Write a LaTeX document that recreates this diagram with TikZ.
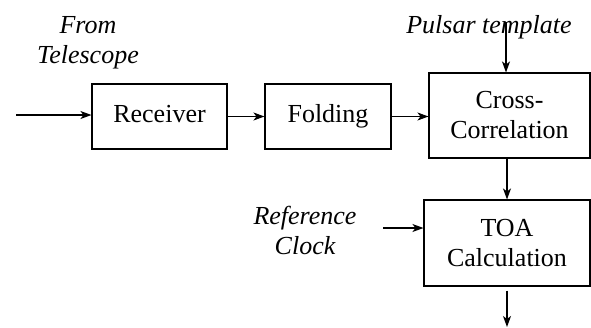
\documentclass[tikz,border=0pt]{standalone}
\usepackage{fontspec}
\setmainfont{Liberation Serif}
\usetikzlibrary{arrows.meta}
\begin{document}
\begin{tikzpicture}[x=1pt,y=-1pt,
  blk/.style={draw,line width=1.1pt,inner sep=0pt,align=center,font=\fontsize{26}{30}\selectfont},
  one/.style={text height=18pt,text depth=6pt},
  lbl/.style={inner sep=0pt,align=center,font=\fontsize{26}{30}\selectfont\itshape},
  arr/.style={line width=1.1pt,-{Stealth[length=11pt,width=8pt,inset=3pt]}}]
\useasboundingbox (0,0) rectangle (591,327);
\node[blk,one,minimum width=135pt,minimum height=65pt] (rec) at (159.5,116.5) {Receiver};
\node[blk,one,minimum width=126pt,minimum height=65pt] (fold) at (328,116.5) {Folding};
\node[blk,minimum width=161pt,minimum height=85pt] (cross) at (509.5,115.5) {Cross-\\Correlation};
\node[blk,minimum width=166pt,minimum height=86pt] (toa) at (507,243) {TOA\\Calculation};
\node[lbl] (tel) at (88,43) {From\\Telescope};
\node[lbl] (pt) at (489,27) {Pulsar template};
\node[lbl] (rc) at (305,230) {Reference\\Clock};
\coordinate (in) at (16,115);
\coordinate (ptin) at (506,22);
\coordinate (rcin) at (383,228);
\coordinate (out) at (507,327);
\draw[arr] (in) -- (in -| rec.west);
\draw[arr] (rec.east) -- (fold.west);
\draw[arr] (fold.east) -- (fold.east -| cross.west);
\draw[arr] (ptin) -- (ptin |- cross.north);
\draw[arr] (cross.south -| out) -- (toa.north -| out);
\draw[arr] (rcin) -- (rcin -| toa.west);
\draw[arr] ([yshift=-4pt]toa.south -| out) -- (out);
\end{tikzpicture}
\end{document}
